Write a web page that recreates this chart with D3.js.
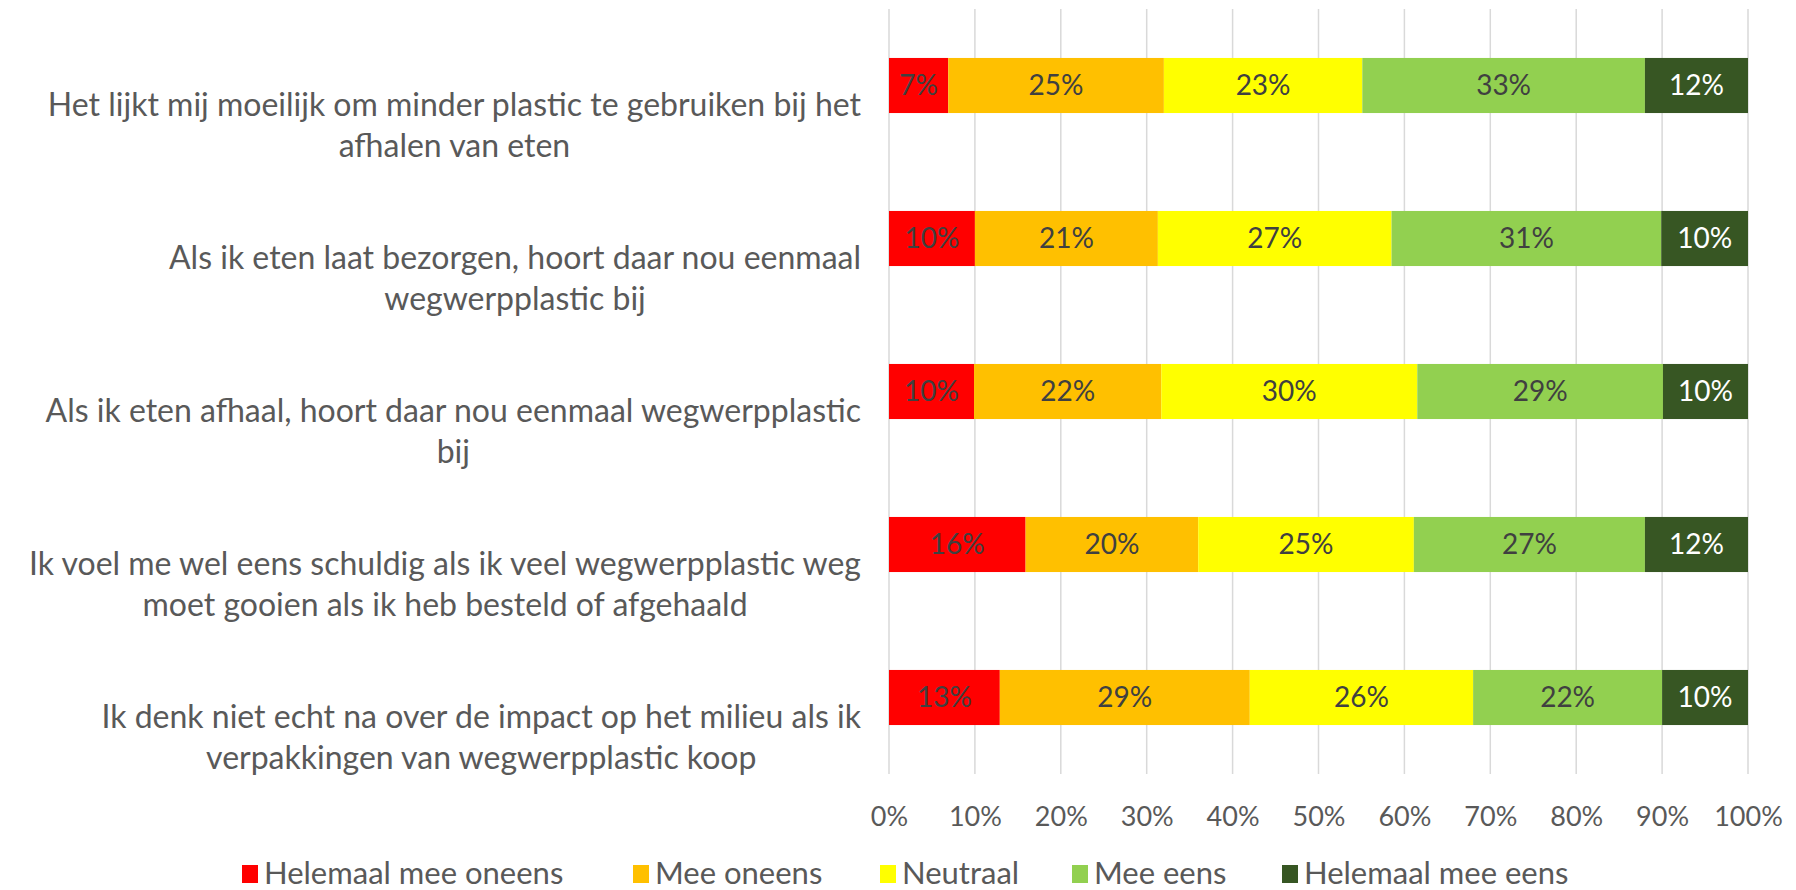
<!DOCTYPE html>
<html>
<head>
<meta charset="utf-8">
<script src="https://cdn.jsdelivr.net/npm/d3@7"></script>
<style>
  body { margin: 0; background: #fff; }
  text { font-family: Lato, "Open Sans", sans-serif; }
</style>
</head>
<body>
<div id="chart"></div>
<script>
// statements, top to bottom ("\n" = line break as in the original)
const categories = [
  "Het lijkt mij moeilijk om minder plastic te gebruiken bij het\nafhalen van eten",
  "Als ik eten laat bezorgen, hoort daar nou eenmaal\nwegwerpplastic bij",
  "Als ik eten afhaal, hoort daar nou eenmaal wegwerpplastic\nbij",
  "Ik voel me wel eens schuldig als ik veel wegwerpplastic weg\nmoet gooien als ik heb besteld of afgehaald",
  "Ik denk niet echt na over de impact op het milieu als ik\nverpakkingen van wegwerpplastic koop"
];
const seriesNames = ["Helemaal mee oneens", "Mee oneens", "Neutraal", "Mee eens", "Helemaal mee eens"];
const colors = ["#ff0000", "#ffc000", "#ffff00", "#92d050", "#375623"];

// percentages per statement, one array per answer
const helemaalOneens = [6.9, 10.0, 9.9, 15.9, 12.9];
const meeOneens      = [25.1, 21.3, 21.8, 20.1, 29.1];
const neutraal       = [23.1, 27.2, 29.8, 25.1, 26.0];
const meeEens        = [32.9, 31.4, 28.6, 26.9, 22.0];
const helemaalEens   = [12.0, 10.1, 9.9, 12.0, 10.0];

const xTicks = [0, 10, 20, 30, 40, 50, 60, 70, 80, 90, 100];

const W = 1796, H = 890;
const margin = {top: 9, left: 889, right: 48, bottom: 116};

const svg = d3.select("#chart").append("svg")
  .attr("width", W)
  .attr("height", H);

const x = d3.scaleLinear()
  .domain([0, 100])
  .range([margin.left, W - margin.right]);

const y = d3.scaleBand()
  .domain(categories)
  .range([margin.top, H - margin.bottom])
  .paddingInner(0.64)
  .paddingOuter(0.32);

// gridlines
svg.append("g")
  .selectAll("line")
  .data(xTicks)
  .enter()
  .append("line")
  .attr("x1", d => x(d))
  .attr("x2", d => x(d))
  .attr("y1", margin.top)
  .attr("y2", H - margin.bottom)
  .attr("stroke", "#d9d9d9")
  .attr("stroke-width", 1.5);

// x axis labels
const xAxis = d3.axisBottom(x)
  .tickValues(xTicks)
  .tickFormat(d => d + "%")
  .tickSize(0)
  .tickPadding(0);

const xg = svg.append("g")
  .attr("transform", "translate(0," + (H - margin.bottom) + ")")
  .call(xAxis);
xg.select(".domain").remove();
xg.selectAll("text")
  .attr("y", 43)
  .attr("dy", "0.35em")
  .attr("font-size", 27)
  .attr("font-family", "Lato, sans-serif")
  .attr("fill", "#595959");

// stack the data
const table = categories.map((c, i) => {
  return {
    cat: c,
    "Helemaal mee oneens": helemaalOneens[i],
    "Mee oneens": meeOneens[i],
    "Neutraal": neutraal[i],
    "Mee eens": meeEens[i],
    "Helemaal mee eens": helemaalEens[i]
  };
});
const stacked = d3.stack().keys(seriesNames)(table);

const groups = svg.append("g")
  .selectAll("g")
  .data(stacked)
  .enter()
  .append("g")
  .attr("fill", (d, i) => colors[i]);

groups.selectAll("rect")
  .data(d => d)
  .enter()
  .append("rect")
  .attr("x", d => x(d[0]))
  .attr("y", d => y(d.data.cat))
  .attr("width", d => x(d[1]) - x(d[0]))
  .attr("height", y.bandwidth());

// data labels
groups.each(function(s, si) {
  d3.select(this).selectAll("text")
    .data(s)
    .enter()
    .append("text")
    .attr("x", d => (x(d[0]) + x(d[1])) / 2)
    .attr("y", d => y(d.data.cat) + y.bandwidth() / 2)
    .attr("dy", "0.35em")
    .attr("text-anchor", "middle")
    .attr("font-size", 28)
    .attr("fill", si == 4 ? "#ffffff" : "#404040")
    .text(d => Math.round(d[1] - d[0]) + "%");
});

// category labels: block right-aligned to the plot, lines centred in the block
categories.forEach(c => {
  const lines = c.split("\n");
  const cy = y(c) + y.bandwidth() / 2;
  const g = svg.append("g");
  const texts = g.selectAll("text")
    .data(lines)
    .enter()
    .append("text")
    .attr("y", (d, i) => cy + 19 + i * 41)
    .attr("dy", "0.35em")
    .attr("text-anchor", "middle")
    .attr("font-size", 32)
    .attr("fill", "#595959")
    .text(d => d);
  let maxW = 0;
  texts.each(function() { maxW = Math.max(maxW, this.getComputedTextLength()); });
  texts.attr("x", 861 - maxW / 2);
});

// legend
const legendX = [242, 633, 880, 1072, 1282];
const legend = svg.append("g")
  .selectAll("g")
  .data(seriesNames)
  .enter()
  .append("g")
  .attr("transform", (d, i) => "translate(" + legendX[i] + ",873)");

legend.append("rect")
  .attr("x", 0)
  .attr("y", -8)
  .attr("width", 16)
  .attr("height", 18)
  .attr("fill", (d, i) => colors[i]);

legend.append("text")
  .attr("x", 22)
  .attr("dy", "0.35em")
  .attr("font-size", 31)
  .attr("fill", "#595959")
  .text(d => d);
</script>
</body>
</html>
